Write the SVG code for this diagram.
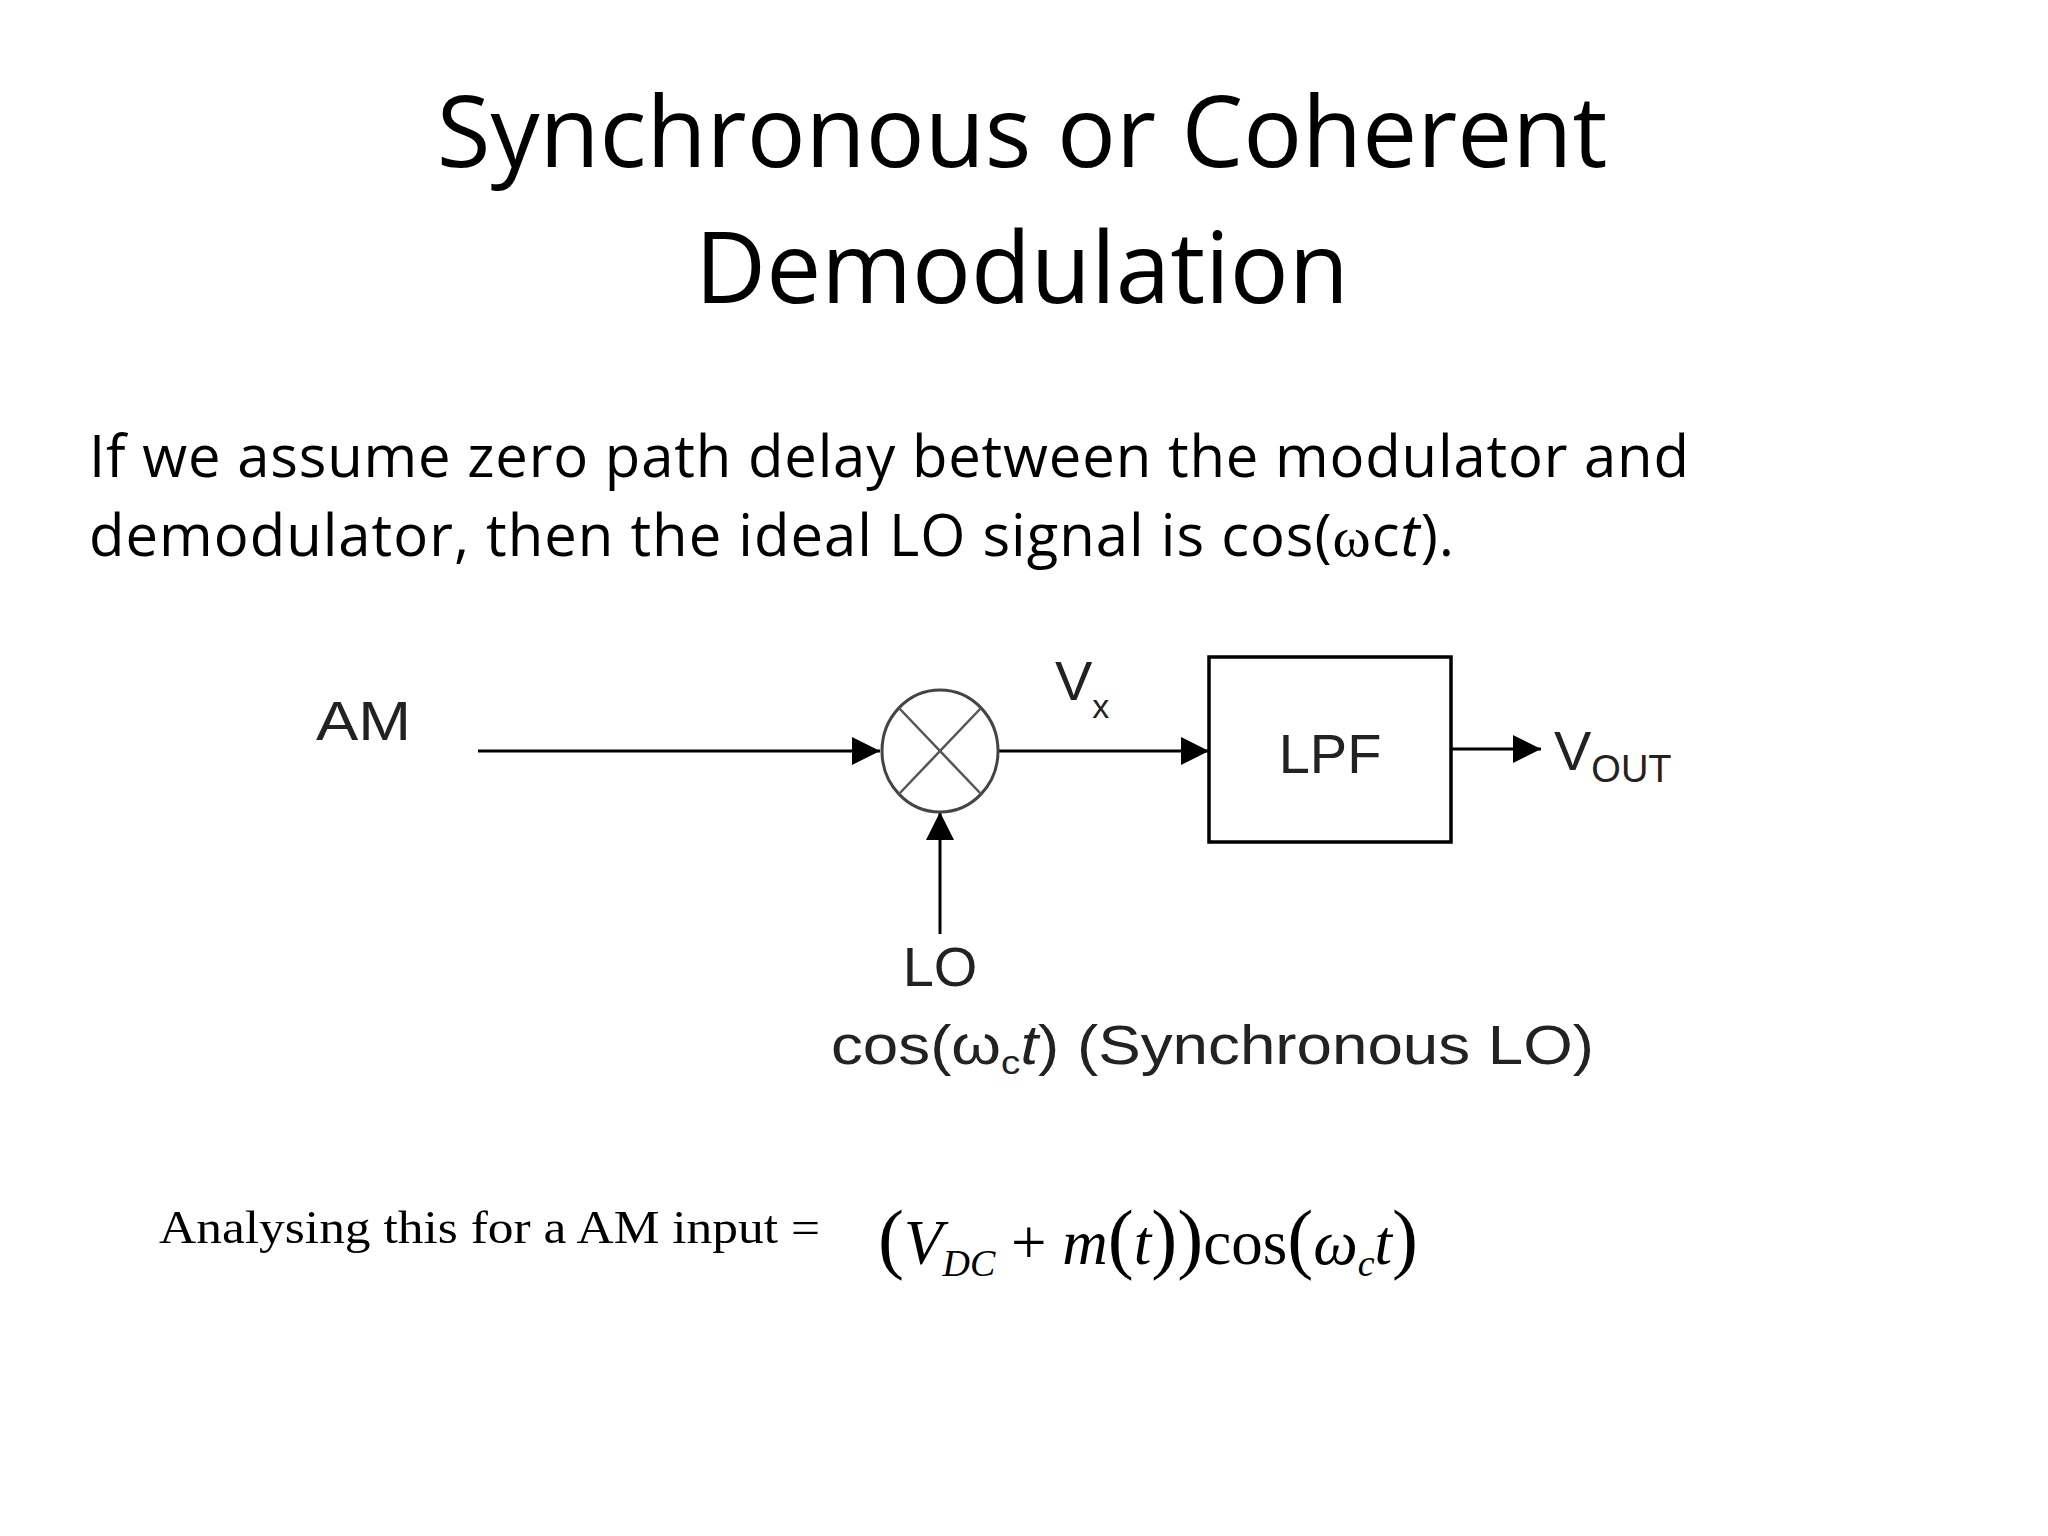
<svg xmlns="http://www.w3.org/2000/svg" width="2048" height="1536" viewBox="0 0 2048 1536">
<style>
.t{font-family:"Open Sans","Liberation Sans",sans-serif;fill:#000}
.d{font-family:"Liberation Sans",Arial,sans-serif;fill:#222}
.m{font-family:"Liberation Serif","Times New Roman",serif;fill:#000}
.ln{stroke:#000;stroke-width:3;fill:none}
</style>
<defs>
<marker id="b" viewBox="0 0 10 10" refX="10" refY="5" markerWidth="32" markerHeight="28" orient="auto" markerUnits="userSpaceOnUse"><path d="M0,0L10,5L0,10z" fill="#000"/></marker></defs>
<rect width="2048" height="1536" fill="#fff"/>
<g id="title"><text class="t" x="1022" y="167" font-size="98" text-anchor="middle">Synchronous or Coherent</text>
<text class="t" x="1022" y="303" font-size="98" text-anchor="middle">Demodulation</text></g>
<g id="body"><text class="t" x="89" y="477" font-size="58" textLength="1600">If we assume zero path delay between the modulator and</text>
<text class="t" x="89" y="556" font-size="58" textLength="1365">demodulator, then the ideal LO signal is cos(<tspan class="m">ω</tspan>c<tspan font-style="italic">t</tspan>).</text></g>
<g id="connectors">
<line class="ln" x1="478" y1="751" x2="880" y2="751" marker-end="url(#b)"/>
<line class="ln" x1="999" y1="751" x2="1209" y2="751" marker-end="url(#b)"/>
<line class="ln" x1="1451" y1="749" x2="1541" y2="749" marker-end="url(#b)"/>
<line class="ln" x1="940" y1="934" x2="940" y2="812" marker-end="url(#b)"/>
</g>
<g id="mixer"><ellipse cx="940" cy="751" rx="58" ry="61" fill="#fff" stroke="#444" stroke-width="3"/>
<line x1="899" y1="708" x2="981" y2="794" stroke="#555" stroke-width="2.5"/>
<line x1="981" y1="708" x2="899" y2="794" stroke="#555" stroke-width="2.5"/></g>
<g id="lpf"><rect x="1209" y="657" width="242" height="185" fill="#fff" stroke="#000" stroke-width="3.5"/>
<text class="d" x="1330" y="773" font-size="56" text-anchor="middle">LPF</text></g>
<g id="labels">
<text class="d" x="316" y="740" font-size="56" textLength="95" lengthAdjust="spacingAndGlyphs">AM</text>
<text class="d" x="1055" y="700" font-size="56">V<tspan font-size="34" dy="18">x</tspan></text>
<text class="d" x="1554" y="770" font-size="56">V<tspan font-size="38" dy="12">OUT</tspan></text>
<text class="d" x="940" y="986" font-size="56" text-anchor="middle">LO</text>
<text class="d" x="831" y="1064" font-size="56" textLength="763" lengthAdjust="spacingAndGlyphs">cos(ω<tspan font-size="34" dy="10">c</tspan><tspan dy="-10" font-style="italic">t</tspan>) (Synchronous LO)</text>
</g>
<g id="formula">
<text class="m" x="159" y="1243" font-size="47" textLength="661" lengthAdjust="spacingAndGlyphs">Analysing this for a AM input =</text>
<text class="m" x="878" y="1264" font-size="63"><tspan font-size="78">(</tspan><tspan font-style="italic">V</tspan><tspan font-style="italic" font-size="38" dy="12">DC</tspan><tspan dy="-12"> + </tspan><tspan font-style="italic">m</tspan><tspan font-size="78">(</tspan><tspan font-style="italic">t</tspan><tspan font-size="78">))</tspan>cos<tspan font-size="78">(</tspan><tspan font-style="italic">ω</tspan><tspan font-style="italic" font-size="38" dy="12">c</tspan><tspan font-style="italic" dy="-12">t</tspan><tspan font-size="78">)</tspan></text>
</g>
</svg>
